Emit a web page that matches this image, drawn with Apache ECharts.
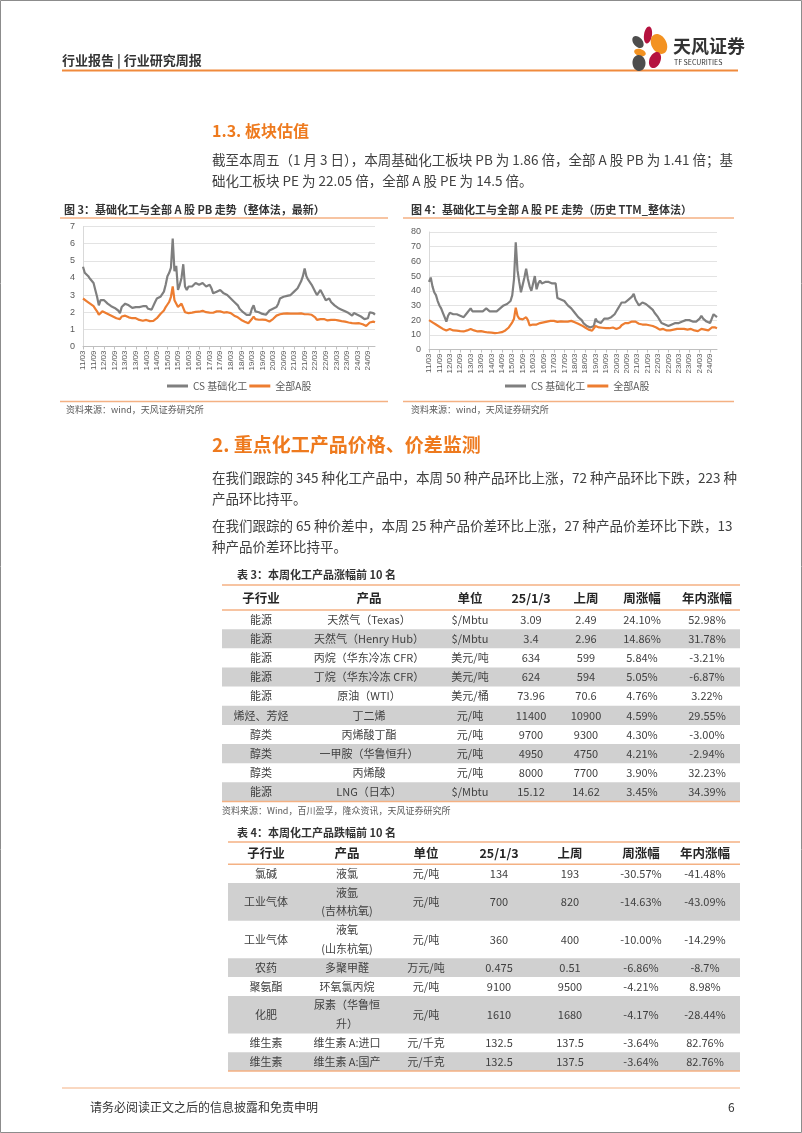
<!DOCTYPE html>
<html>
<head>
<meta charset="utf-8">
<script src="https://cdn.jsdelivr.net/npm/echarts@6/dist/echarts.min.js"></script>
<style>
  html, body { margin: 0; padding: 0; background: #fff; }
  #page { width: 802px; height: 1133px; }
</style>
</head>
<body>
<div id="page"></div>
<script>
// month categories 11/03 .. 25/01
const months = []
for (let y = 11; y <= 25; y++) {
  for (let m = 1; m <= 12; m++) {
    if ((y === 11 && m < 3) || (y === 25 && m > 1)) continue
    months.push(y + '/' + String(m).padStart(2, '0'))
  }
}

// 图3 PB（整体法，最新）
const pbChem = [
  4.65, 4.3, 4.25, 4.1, 3.95, 3.85, 3.7, 3.3, 2.9, 2.4,
  2.7, 2.8, 2.7, 2.6, 2.5, 2.4, 2.35, 2.25, 2.25, 2.25, 2.1, 1.95,
  2.3, 2.4, 2.5, 2.45, 2.4, 2.3, 2.25, 2.3, 2.3, 2.25, 2.3, 2.35,
  2.35, 2.4, 2.35, 2.2, 2.15, 2.15, 2.2, 2.6, 2.8, 2.85, 2.9, 3.0,
  3.2, 3.6, 4.1, 4.3, 4.6, 6.3, 4.4, 4.7, 3.3, 3.6, 4.0, 4.8,
  3.5, 3.3, 3.5, 3.6, 3.5, 3.6, 3.7, 3.7, 3.6, 3.7, 3.7, 3.6,
  3.5, 3.6, 3.6, 3.4, 3.1, 3.2, 3.2, 3.3, 3.3, 3.2, 3.1, 3.1,
  3.0, 2.9, 2.8, 2.7, 2.6, 2.5, 2.4, 2.2, 2.1, 2.0, 1.9, 1.85,
  1.8, 1.85, 2.2, 2.4, 2.05, 2.0, 2.0, 1.95, 1.9, 1.9, 1.85, 1.95,
  2.1, 2.15, 2.2, 2.25, 2.3, 2.5, 2.8, 2.85, 2.9, 2.9, 2.95, 3.0,
  3.0, 3.1, 3.2, 3.3, 3.4, 3.6, 3.8, 4.1, 4.55, 4.1, 3.9, 3.8,
  3.6, 3.5, 3.2, 3.0, 3.1, 3.3, 3.2, 2.9, 2.7, 2.7, 2.8, 2.6,
  2.5, 2.4, 2.3, 2.25, 2.2, 2.15, 2.1, 2.05, 2.0, 1.95, 1.85, 1.8,
  1.95, 1.9, 1.85, 1.9, 1.75, 1.7, 1.6, 1.56, 1.65, 2.0, 2.05, 1.95,
  1.86
]
const pbAll = [
  2.8, 2.75, 2.65, 2.6, 2.5, 2.4, 2.35, 2.2, 2.05, 1.85,
  1.95, 2.05, 2.0, 1.95, 1.9, 1.85, 1.8, 1.75, 1.7, 1.65, 1.6, 1.6,
  1.75, 1.85, 1.8, 1.75, 1.7, 1.65, 1.65, 1.7, 1.65, 1.6, 1.55, 1.55,
  1.5, 1.55, 1.55, 1.5, 1.48, 1.46, 1.5, 1.55, 1.65, 1.75, 1.9, 2.0,
  2.1, 2.3, 2.45, 2.6, 2.9, 3.5, 2.7, 2.8, 2.3, 2.35, 2.5, 2.6,
  2.0, 1.95, 1.95, 2.0, 1.98, 2.0, 2.02, 2.05, 2.03, 2.05, 2.08, 2.05,
  2.0, 2.0, 1.98, 1.95, 1.97, 2.02, 2.05, 2.08, 2.05, 2.0, 1.98, 1.95,
  2.0, 2.05, 1.95, 1.85, 1.8, 1.75, 1.7, 1.6, 1.55, 1.5, 1.45, 1.4,
  1.36, 1.4, 1.6, 1.75, 1.6, 1.58, 1.56, 1.55, 1.57, 1.56, 1.55, 1.5,
  1.46, 1.5, 1.6, 1.7, 1.8, 1.85, 1.88, 1.9, 1.92, 1.95, 1.93, 1.9,
  1.92, 1.95, 1.92, 1.9, 1.92, 1.95, 1.93, 1.9, 1.88, 1.9, 1.88, 1.85,
  1.85, 1.8, 1.7, 1.55, 1.5, 1.6, 1.65, 1.6, 1.55, 1.52, 1.5, 1.55,
  1.58, 1.56, 1.55, 1.52, 1.5, 1.48, 1.46, 1.45, 1.44, 1.4, 1.38, 1.36,
  1.3, 1.35, 1.33, 1.36, 1.35, 1.3, 1.25, 1.2, 1.17, 1.4, 1.5, 1.45,
  1.41
]

// 图4 PE（历史 TTM_整体法）
const peChem = [
  46, 49, 43, 39, 37, 33, 30, 28, 25, 22,
  19, 23, 25, 25, 24, 24, 24, 23, 23, 23, 22, 21,
  25, 26, 28, 26, 27, 26, 25, 26, 27, 26, 27, 28,
  27, 26, 27, 26, 25, 26, 27, 28, 29, 30, 31, 31,
  31, 33, 37, 48, 73, 54, 46, 39, 44, 49, 55, 48,
  43, 40, 45, 50, 41, 45, 47, 45, 45, 46, 45, 46,
  46, 45, 45, 45, 35, 34, 34, 34, 33, 32, 30, 29,
  28, 27, 25, 24, 22, 21, 20, 18, 17, 16, 15, 15,
  14.5, 16, 21, 19, 19, 18, 19, 21, 20, 21, 22, 22,
  23, 24, 26, 28, 30, 32, 33, 32, 33, 34, 35, 36,
  38, 34, 32, 30, 31, 32, 33, 31, 30, 29, 28, 27,
  25, 24, 22, 20, 18, 18, 17, 16, 16, 16, 17, 17,
  18, 18, 18, 19, 19, 20, 20, 21, 20, 20, 19, 18,
  19, 20, 21, 23, 21, 20, 19, 18, 18, 21, 24, 24,
  22.05
]
const peAll = [
  20, 19.5, 18.5, 18, 17, 16, 15.5, 14.8, 14, 13.5,
  13, 13.5, 14, 13.5, 13, 13, 12.8, 12.5, 12.5, 12.5, 12.3, 12.2,
  13, 13.5, 14, 13.5, 13, 12.5, 12.3, 12.5, 12.5, 12.2, 12, 11.8,
  11.6, 11.5, 11.5, 11.4, 11.2, 11.2, 11.4, 11.6, 11.8, 12.2, 13, 14,
  15, 16, 18.5, 21, 28.5, 23, 21, 19.8, 20.5, 21, 22, 20,
  16.4, 16.5, 17, 17.5, 17, 17.5, 18, 18.2, 18.5, 18.8, 19, 19.2,
  19.5, 19.8, 19.5, 19, 18.8, 19, 19.2, 19.2, 19, 18.8, 19, 19.2,
  19.5, 19, 18.6, 18, 17.5, 17, 16.4, 15.5, 15, 14, 13.5, 13,
  12.8, 12.5, 16, 15.5, 15, 14.8, 14.8, 14.5, 14.5, 14.5, 14.5, 14,
  15, 14.5, 14, 14.5, 15, 16.5, 17.5, 18, 18, 18, 18.5, 19,
  20, 19, 18, 17.5, 17.5, 17, 17, 17, 16.5, 16.5, 16.4, 16,
  15.5, 15, 14.5, 13.5, 14, 14, 13.5, 13, 13, 13, 13.5, 13.5,
  14, 14, 14, 14, 14, 14, 14, 13.5, 13.5, 14, 13.5, 13,
  12.5, 12.5, 13.5, 14, 13.5, 13.5, 13, 13, 12.5, 15, 15.2, 15,
  14.5
]

// 表3：本周化工产品涨幅前10名
const tableHeader = ['子行业', '产品', '单位', '25/1/3', '上周', '周涨幅', '年内涨幅']
const upSector = ['能源', '能源', '能源', '能源', '能源', '烯烃、芳烃', '醇类', '醇类', '醇类', '能源']
const upProduct = ['天然气（Texas）', '天然气（Henry Hub）', '丙烷（华东冷冻 CFR）', '丁烷（华东冷冻 CFR）', '原油（WTI）', '丁二烯', '丙烯酸丁酯', '一甲胺（华鲁恒升）', '丙烯酸', 'LNG（日本）']
const upUnit = ['$/Mbtu', '$/Mbtu', '美元/吨', '美元/吨', '美元/桶', '元/吨', '元/吨', '元/吨', '元/吨', '$/Mbtu']
const upNow = ['3.09', '3.4', '634', '624', '73.96', '11400', '9700', '4950', '8000', '15.12']
const upPrev = ['2.49', '2.96', '599', '594', '70.6', '10900', '9300', '4750', '7700', '14.62']
const upWeek = ['24.10%', '14.86%', '5.84%', '5.05%', '4.76%', '4.59%', '4.30%', '4.21%', '3.90%', '3.45%']
const upYear = ['52.98%', '31.78%', '-3.21%', '-6.87%', '3.22%', '29.55%', '-3.00%', '-2.94%', '32.23%', '34.39%']

// 表4：本周化工产品跌幅前10名
const downSector = ['氯碱', '工业气体', '工业气体', '农药', '聚氨酯', '化肥', '维生素', '维生素']
const downProduct = ['液氯', '液氩\n(吉林杭氧)', '液氧\n(山东杭氧)', '多聚甲醛', '环氧氯丙烷', '尿素（华鲁恒\n升）', '维生素 A:进口', '维生素 A:国产']
const downUnit = ['元/吨', '元/吨', '元/吨', '万元/吨', '元/吨', '元/吨', '元/千克', '元/千克']
const downNow = ['134', '700', '360', '0.475', '9100', '1610', '132.5', '132.5']
const downPrev = ['193', '820', '400', '0.51', '9500', '1680', '137.5', '137.5']
const downWeek = ['-30.57%', '-14.63%', '-10.00%', '-6.86%', '-4.21%', '-4.17%', '-3.64%', '-3.64%']
const downYear = ['-41.48%', '-43.09%', '-14.29%', '-8.7%', '8.98%', '-28.44%', '82.76%', '82.76%']

const FONT = "'Noto Sans CJK SC','Noto Sans',sans-serif"
const ORANGE = '#ed7d31'
const LIGHT_ORANGE = '#f4b183'
const GRAY = '#7f7f7f'

const els = []
function txt(x, y, text, size, o) {
  o = o || {}
  els.push({
    type: 'text', x: x, y: y, silent: true,
    style: {
      text: text,
      fill: o.color || '#404040',
      font: (o.bold ? 'bold ' : '') + size + 'px ' + FONT,
      align: o.align || 'left',
      verticalAlign: 'middle',
      lineHeight: o.lh || Math.round(size * 1.4)
    }
  })
}
function hline(x1, x2, y, color, w) {
  els.push({ type: 'line', silent: true, shape: { x1: x1, y1: y, x2: x2, y2: y }, style: { stroke: color, lineWidth: w } })
}
function box(x, y, w, h, fill) {
  els.push({ type: 'rect', silent: true, shape: { x: x, y: y, width: w, height: h }, style: { fill: fill } })
}
function petal(cx, cy, rx, ry, rot, color) {
  els.push({ type: 'ellipse', silent: true, x: cx, y: cy, rotation: rot, shape: { cx: 0, cy: 0, rx: rx, ry: ry }, style: { fill: color } })
}

// page frame
els.push({ type: 'rect', silent: true, shape: { x: 0.5, y: 0.5, width: 801, height: 1132 }, style: { fill: 'none', stroke: '#8c8c8c', lineWidth: 1 } })

// header
txt(62, 60, '行业报告 | 行业研究周报', 13, { bold: true, color: '#333' })
hline(62, 738, 70.5, '#f08a3c', 2)
petal(648, 35, 4, 8.5, -0.15, '#b5123f')
petal(638, 42, 4.5, 7, 0.7, '#4d4d4d')
petal(659, 44, 7.5, 10.5, 0.5, '#f39221')
petal(640, 52.5, 6, 3.5, -0.3, '#f39221')
petal(655, 60, 5.5, 8.5, -0.4, '#b5123f')
petal(639, 63, 6.5, 8, 0.1, '#4d4d4d')
txt(673, 46, '天风证券', 18, { bold: true, color: '#333' })
txt(674, 62, 'TF SECURITIES', 7, { color: '#333' })

// section 1.3
txt(212, 131, '1.3. 板块估值', 16, { bold: true, color: '#ee7a1e' })
txt(212, 160, '截至本周五（1 月 3 日），本周基础化工板块 PB 为 1.86 倍，全部 A 股 PB 为 1.41 倍；基', 13.5)
txt(212, 181, '础化工板块 PE 为 22.05 倍，全部 A 股 PE 为 14.5 倍。', 13.5)

// chart captions
txt(64, 210, '图 3：基础化工与全部 A 股 PB 走势（整体法，最新）', 11, { bold: true, color: '#333' })
txt(411, 210, '图 4：基础化工与全部 A 股 PE 走势（历史 TTM_整体法）', 11, { bold: true, color: '#333' })
hline(60, 388, 218, LIGHT_ORANGE, 1.5)
hline(403, 734, 218, LIGHT_ORANGE, 1.5)
hline(60, 388, 401.5, LIGHT_ORANGE, 1.5)
hline(403, 734, 401.5, LIGHT_ORANGE, 1.5)
txt(66, 410, '资料来源：wind，天风证券研究所', 9, { color: '#595959' })
txt(411, 410, '资料来源：wind，天风证券研究所', 9, { color: '#595959' })

// section 2
txt(212, 445, '2. 重点化工产品价格、价差监测', 19, { bold: true, color: '#ee7a1e' })
txt(212, 478, '在我们跟踪的 345 种化工产品中，本周 50 种产品环比上涨，72 种产品环比下跌，223 种', 13.5)
txt(212, 499, '产品环比持平。', 13.5)
txt(212, 526, '在我们跟踪的 65 种价差中，本周 25 种产品价差环比上涨，27 种产品价差环比下跌，13', 13.5)
txt(212, 547, '种产品价差环比持平。', 13.5)

// tables
function drawTable(o) {
  txt(o.titleX, o.titleY, o.title, 11, { bold: true, color: '#333' })
  hline(o.left, o.right, o.topLine, LIGHT_ORANGE, 1.5)
  o.header.forEach(function (h, i) { txt(o.cols[i], o.headerY, h, 12.5, { bold: true, color: '#262626', align: 'center' }) })
  hline(o.left, o.right, o.headLine, LIGHT_ORANGE, 1.5)
  let y = o.headLine
  o.rows[0].forEach(function (_, r) {
    const lines = Math.max.apply(null, o.rows.map(function (c) { return String(c[r]).split('\n').length }))
    const h = lines > 1 ? o.rowH * 2 : o.rowH
    if (r % 2 === 1) box(o.left, y, o.right - o.left, h, '#d0d0d0')
    o.rows.forEach(function (c, k) {
      txt(o.cols[k], y + h / 2, c[r], 11, { align: 'center', color: '#404040', lh: o.rowH })
    })
    y += h
  })
  hline(o.left, o.right, y, LIGHT_ORANGE, 1.5)
  return y
}

drawTable({
  title: '表 3：本周化工产品涨幅前 10 名', titleX: 237, titleY: 575,
  left: 222, right: 740, topLine: 585, headerY: 598, headLine: 610, rowH: 19.15,
  cols: [261, 369, 470, 531, 586, 642, 707],
  header: tableHeader,
  rows: [upSector, upProduct, upUnit, upNow, upPrev, upWeek, upYear]
})
txt(222, 811, '资料来源：Wind，百川盈孚，隆众资讯，天风证券研究所', 9, { color: '#595959' })

drawTable({
  title: '表 4：本周化工产品跌幅前 10 名', titleX: 237, titleY: 833,
  left: 228, right: 740, topLine: 842, headerY: 853, headLine: 864.3, rowH: 18.8,
  cols: [266, 347, 426, 499, 570, 641, 705],
  header: tableHeader,
  rows: [downSector, downProduct, downUnit, downNow, downPrev, downWeek, downYear]
})

// footer
hline(62, 740, 1088, LIGHT_ORANGE, 1)
txt(90, 1107, '请务必阅读正文之后的信息披露和免责申明', 12, { color: '#333' })
txt(728, 1107, '6', 12, { color: '#333' })

function xAxisOf(idx) {
  return {
    gridIndex: idx, type: 'category', data: months, boundaryGap: false,
    axisLine: { lineStyle: { color: '#bfbfbf' } },
    axisTick: { interval: 5, length: 3, lineStyle: { color: '#bfbfbf' } },
    axisLabel: { interval: 5, rotate: 90, fontSize: 8, color: '#595959', margin: 4, fontFamily: 'Liberation Sans' }
  }
}
function yAxisOf(idx, max, step) {
  return {
    gridIndex: idx, type: 'value', min: 0, max: max, interval: step,
    axisLine: { show: true, lineStyle: { color: '#d9d9d9' } },
    axisTick: { show: false },
    axisLabel: { fontSize: 9, color: '#595959', margin: 8, fontFamily: 'Liberation Sans' },
    splitLine: { lineStyle: { color: '#e3e3e3' } }
  }
}
function lineSeries(name, idx, data, color) {
  return {
    name: name, type: 'line', xAxisIndex: idx, yAxisIndex: idx, data: data,
    symbol: 'none', lineStyle: { width: 2.2, color: color }, itemStyle: { color: color }
  }
}
function legendOf(left) {
  return {
    left: left, top: 381, itemWidth: 21, itemHeight: 3, itemGap: 2, icon: 'rect', padding: 0,
    data: ['CS 基础化工', '全部A股'],
    textStyle: { fontSize: 10, color: '#595959', fontFamily: FONT }
  }
}

const chart = echarts.init(document.getElementById('page'))
chart.setOption({
  animation: false,
  backgroundColor: '#fff',
  grid: [
    { left: 83, top: 226.5, width: 292, height: 120 },
    { left: 429, top: 232, width: 288, height: 117.5 }
  ],
  xAxis: [xAxisOf(0), xAxisOf(1)],
  yAxis: [yAxisOf(0, 7, 1), yAxisOf(1, 80, 10)],
  legend: [legendOf(167), legendOf(505)],
  series: [
    lineSeries('CS 基础化工', 0, pbChem, GRAY),
    lineSeries('全部A股', 0, pbAll, ORANGE),
    lineSeries('CS 基础化工', 1, peChem, GRAY),
    lineSeries('全部A股', 1, peAll, ORANGE)
  ],
  graphic: { elements: els }
})
</script>
</body>
</html>
